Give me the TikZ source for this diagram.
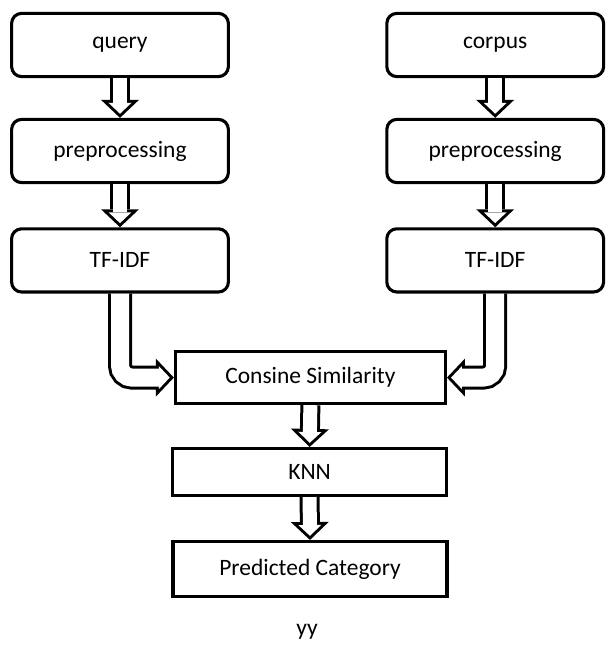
\documentclass[tikz,border=0pt]{standalone}
\usepackage{fontspec}
\setmainfont{Carlito}
\usepackage{tikz}
\usetikzlibrary{arrows.meta, positioning}

\begin{document}
\begin{tikzpicture}[
    roundbox/.style={draw, line width=2.2pt, rounded corners=0.25cm, minimum width=5.42cm, minimum height=1.58cm, font=\fontsize{16.7}{20}\selectfont},
    plainbox/.style={draw, line width=2.2pt, minimum width=6.85cm, font=\fontsize{16.7}{20}\selectfont},
    arrowout/.style={line width=0.5cm, -{Triangle[length=0.45cm, width=0.95cm, line width=0pt]}},
    arrowin/.style={white, line width=0.35cm, shorten >=0.103cm, -{Triangle[length=0.272cm, width=0.573cm, line width=0pt]}},
    bendout/.style={arrowout, line width=0.6cm, rounded corners=0.3cm},
    bendin/.style={arrowin, line width=0.45cm, rounded corners=0.3cm}
]
    \path[use as bounding box, fill=white] (0, 0) rectangle (15.15, -16.2);

    % Query side
    \node[roundbox] (query) at (3.0, -1.125) {query};
    \node[roundbox] (prepq) at (3.0, -3.775) {preprocessing};
    \node[roundbox] (tfidfq) at (3.0, -6.51) {TF-IDF};

    % Corpus side
    \node[roundbox] (corpus) at (12.38, -1.125) {corpus};
    \node[roundbox] (prepc) at (12.38, -3.775) {preprocessing};
    \node[roundbox] (tfidfc) at (12.38, -6.51) {TF-IDF};

    % Similarity, KNN, result
    \node[plainbox, minimum width=6.75cm, minimum height=1.3cm] (cosine) at (7.76, -9.44) {Consine Similarity};
    \node[plainbox, minimum height=1.175cm] (knn) at (7.74, -11.8) {KNN};
    \node[plainbox, minimum height=1.375cm] (pred) at (7.75, -14.225) {Predicted Category};
    \node[font=\fontsize{16.7}{20}\selectfont] (caption) at (7.675, -15.8) {yy};

    % Straight block arrows
    \draw[arrowout] (query.south) -- (prepq.north);
    \draw[arrowin] (query.south) -- (prepq.north);
    \draw[arrowout] (prepq.south) -- (tfidfq.north);
    \draw[arrowin] (prepq.south) -- (tfidfq.north);
    \draw[arrowout] (corpus.south) -- (prepc.north);
    \draw[arrowin] (corpus.south) -- (prepc.north);
    \draw[arrowout] (prepc.south) -- (tfidfc.north);
    \draw[arrowin] (prepc.south) -- (tfidfc.north);
    \draw[arrowout] (cosine.south) -- (knn.north);
    \draw[arrowin] (cosine.south) -- (knn.north);
    \draw[arrowout] (knn.south) -- (pred.north);
    \draw[arrowin] (knn.south) -- (pred.north);

    % Bent block arrows
    \draw[bendout] (tfidfq.south) |- (cosine.west);
    \draw[bendin] (tfidfq.south) |- (cosine.west);
    \draw[bendout] (tfidfc.south) |- (cosine.east);
    \draw[bendin] (tfidfc.south) |- (cosine.east);

\end{tikzpicture}
\end{document}
